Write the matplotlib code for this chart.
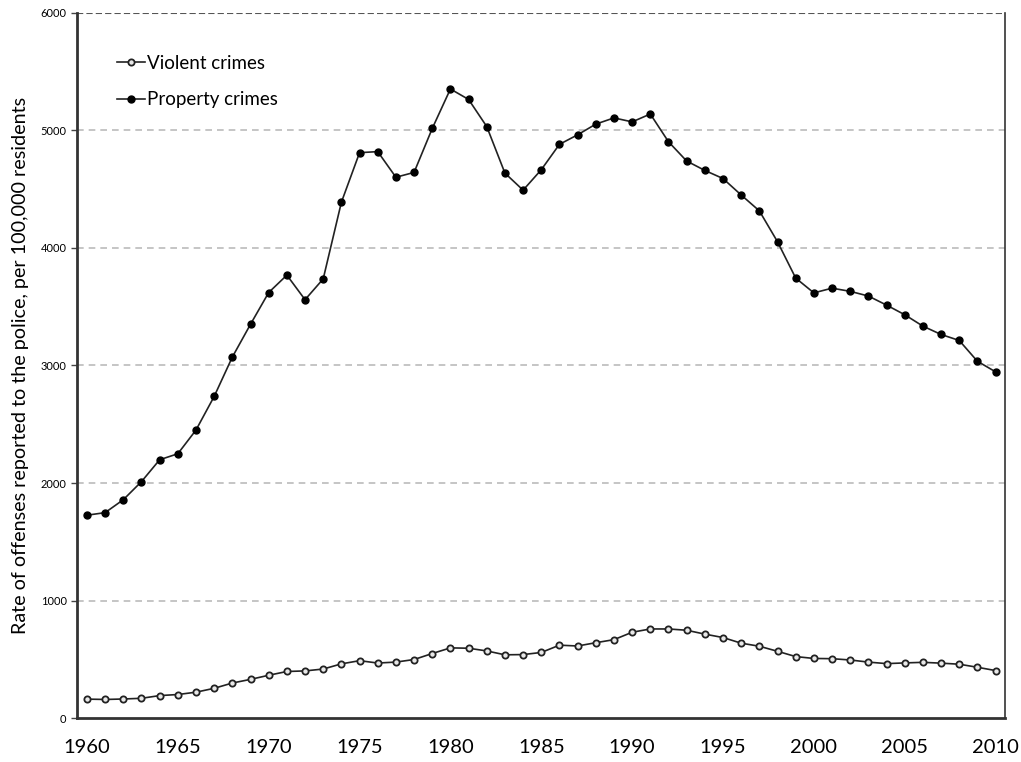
import matplotlib
matplotlib.use("Agg")
import matplotlib.pyplot as plt

years = list(range(1960, 2011))
property_crimes = [1726, 1748, 1858, 2012, 2198, 2249, 2451, 2737, 3072, 3351,
                   3621, 3769, 3560, 3737, 4389, 4811, 4820, 4602, 4643, 5017,
                   5353, 5264, 5033, 4637, 4492, 4666, 4882, 4963, 5054, 5107,
                   5073, 5140, 4904, 4740, 4660, 4591, 4451, 4316, 4053, 3744,
                   3618, 3658, 3631, 3591, 3514, 3432, 3335, 3264, 3213, 3036,
                   2946]
violent_crimes = [161, 158, 162, 168, 191, 200, 220, 253, 298, 329,
                  364, 396, 401, 417, 461, 488, 468, 476, 498, 549,
                  597, 594, 571, 538, 540, 558, 620, 613, 641, 667,
                  730, 758, 758, 747, 714, 685, 637, 611, 568, 523,
                  507, 505, 494, 476, 463, 469, 474, 467, 458, 432,
                  404]
xticks = list(range(1960, 2011, 5))
yticks = [0, 1000, 2000, 3000, 4000, 5000, 6000]

plt.rcParams["font.family"] = ["Lato", "DejaVu Sans"]

fig = plt.figure(figsize=(10.21, 7.62), dpi=100)
ax = fig.add_axes([0.0754, 0.0577, 0.9086, 0.9253])

ax.plot(years, violent_crimes, "-o", color="#222222", lw=1.2, ms=4.5,
        mfc="#e8e8e8", mec="#222222", mew=1.3, label="Violent crimes", zorder=3)
ax.plot(years, property_crimes, "-o", color="#222222", lw=1.2, ms=5,
        mfc="black", mec="black", label="Property crimes", zorder=3)

ax.set_xlim(1959.45, 2010.5)
ax.set_ylim(0, 6000)
ax.set_xticks(xticks)
ax.set_yticks(yticks)
ax.tick_params(axis="x", length=0, labelsize=14.5, pad=15)
ax.tick_params(axis="y", length=4, width=1, labelsize=8, color="#444444")

for y in yticks[1:-1]:
    ax.axhline(y, color="#bbbbbb", lw=1.2, ls=(0, (4, 3)), zorder=1)
ax.axhline(6000, color="#555555", lw=1.5, ls=(0, (3, 1.5)), zorder=2)

ax.spines["top"].set_visible(False)
ax.spines["left"].set_linewidth(2)
ax.spines["left"].set_color("#333333")
ax.spines["bottom"].set_linewidth(2)
ax.spines["bottom"].set_color("#333333")
ax.spines["right"].set_linewidth(1.2)
ax.spines["right"].set_color("#333333")

ax.set_ylabel("Rate of offenses reported to the police, per 100,000 residents",
              fontsize=14.2, labelpad=8)

ax.legend(loc="upper left", bbox_to_anchor=(0.025, 0.965), frameon=False,
          fontsize=13.5, handlelength=1.5, handletextpad=0.1, labelspacing=1.05)

fig.savefig("out.png", dpi=100)
